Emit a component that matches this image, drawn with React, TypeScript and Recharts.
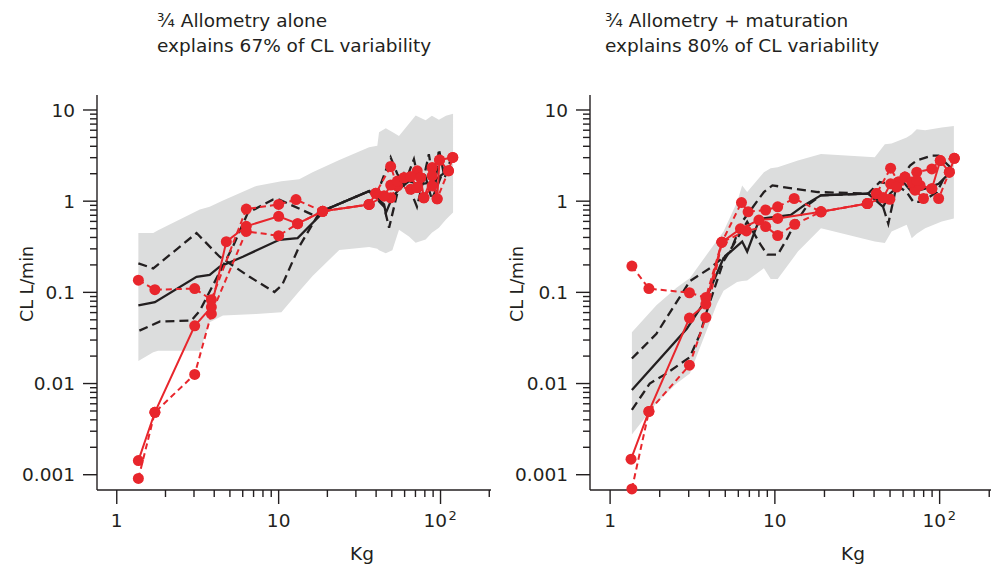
import React from 'react';
import { ComposedChart, Area, Line, XAxis, YAxis } from 'recharts';

type Pt = [number, number];
type BandRow = [number, number, number];

// kg, lower, upper of the prediction band
const leftBand: BandRow[] = [
  [1.36, 0.0177, 0.447], [1.68, 0.022, 0.447], [1.8, 0.0229, 0.48], [3.26, 0.0229, 0.81],
  [3.75, 0.047, 0.87], [4.53, 0.0558, 1.02], [7.27, 0.058, 1.47], [10.4, 0.0607, 1.65],
  [13.4, 0.103, 1.74], [16.2, 0.151, 2.08], [23.7, 0.292, 2.82], [36.2, 0.315, 3.9],
  [40.7, 0.3, 4.06], [41.7, 0.29, 5.7], [45.9, 0.269, 6.3], [50.4, 0.29, 5.75],
  [55.4, 0.486, 5.2], [63.8, 0.41, 7.05], [70.2, 0.35, 8.7], [80.9, 0.38, 7.7],
  [88.4, 0.45, 8.65], [97.7, 0.51, 7.8], [108, 0.63, 8.65], [119.5, 0.75, 9.1],
];
const leftPredMedian: Pt[] = [
  [1.36, 0.072], [1.72, 0.078], [3.11, 0.148], [3.75, 0.155], [4.32, 0.191], [6.01, 0.246],
  [10.1, 0.377], [13.1, 0.394], [19.6, 0.81], [36.2, 1.29], [44.8, 0.92], [45.9, 0.74],
  [50.4, 1.1], [55.4, 1.35], [63.8, 1.66], [73.5, 1.53], [88.4, 1.61], [107, 2.08], [118, 2.36],
];
const leftPredA: Pt[] = [
  [1.36, 0.208], [1.68, 0.183], [3.11, 0.447], [4.32, 0.246], [6.61, 0.148], [9.42, 0.101],
  [10.5, 0.12], [13.4, 0.318], [17.8, 0.744], [19.6, 0.81], [36.2, 1.29], [40.4, 1.18],
  [49.2, 3.02], [54, 2.0], [59.5, 1.5], [68.5, 2.89], [75.6, 1.3], [84.7, 3.28], [92.2, 1.3],
  [97.7, 3.73], [106, 1.8], [115.7, 2.89],
];
const leftPredB: Pt[] = [
  [1.38, 0.038], [1.85, 0.048], [2.89, 0.049], [3.26, 0.063], [5.22, 0.318], [6.45, 0.744],
  [9.2, 1.04], [10.1, 1.04], [16.2, 0.71], [19.6, 0.81], [36.2, 1.29], [44.8, 0.87],
  [48.1, 0.51], [53.8, 1.18], [59.5, 1.97], [71.5, 0.87], [80, 1.97], [88.4, 1.04],
  [102, 1.97], [112, 2.36],
];
const leftObsMedian: Pt[] = [
  [1.36, 0.00143], [1.72, 0.00484], [3.03, 0.043], [3.84, 0.069], [4.75, 0.36], [6.31, 0.53],
  [10.0, 0.683], [13.1, 0.567], [18.7, 0.775], [36.2, 0.92], [39.8, 1.22], [44.8, 1.14],
  [49.2, 1.5], [54.1, 1.66], [59.5, 1.81], [65.3, 1.86], [71.8, 1.41], [75.3, 1.81],
  [78.9, 1.09], [88.8, 1.89], [95.3, 1.06], [98.6, 2.82], [112, 2.15], [119, 3.02],
];
const leftObsUpper: Pt[] = [
  [1.36, 0.136], [1.72, 0.107], [3.03, 0.11], [3.84, 0.083], [6.31, 0.82], [10.0, 0.92],
  [12.8, 1.04], [18.7, 0.775], [36.2, 0.92], [39.8, 1.22], [49.2, 2.4], [54.1, 1.47],
  [59.5, 1.81], [71.8, 2.15], [75.3, 1.81], [88.8, 2.34], [98.6, 2.82], [119, 3.02],
];
const leftObsLower: Pt[] = [
  [1.36, 0.00091], [1.72, 0.00484], [3.03, 0.0126], [3.84, 0.058], [6.31, 0.466], [10.0, 0.418],
  [13.1, 0.567], [18.7, 0.775], [36.2, 0.92], [44.8, 1.14], [49.2, 1.09], [54.1, 1.47],
  [65.3, 1.35], [71.8, 1.41], [78.9, 1.09], [88.8, 1.47], [95.3, 1.06], [112, 2.15],
];
const leftObsExtra: Pt[] = [];

const rightBand: BandRow[] = [
  [1.356, 0.00276, 0.0365], [1.91, 0.0061, 0.072], [2.53, 0.01, 0.112], [3.05, 0.0129, 0.144],
  [4.45, 0.0743, 0.37], [4.88, 0.104, 0.464], [5.9, 0.13, 0.98], [6.33, 0.133, 1.49],
  [6.79, 0.135, 1.26], [8.58, 0.184, 2.08], [9.43, 0.14, 2.3], [10.4, 0.14, 2.35],
  [13.8, 0.28, 2.8], [19.05, 0.504, 3.29], [40.4, 0.361, 3.03], [46.5, 0.347, 4.22],
  [51.1, 0.464, 4.3], [63.1, 0.55, 5.0], [67.7, 0.393, 5.42], [72.6, 0.44, 6.14],
  [81.7, 0.504, 6.0], [103, 0.6, 6.41], [122, 0.647, 6.69],
];
const rightPredMedian: Pt[] = [
  [1.356, 0.0085], [2.92, 0.0398], [3.77, 0.0807], [4.88, 0.238], [6.33, 0.361], [6.79, 0.28],
  [7.82, 0.55], [8.58, 0.647], [12.5, 0.705], [15.1, 0.905], [19.05, 1.16], [36.8, 1.21],
  [45.4, 0.867], [49.9, 1.21], [60.2, 1.62], [67.7, 1.26], [81.7, 1.37], [98.6, 1.55], [121.8, 2.26],
];
const rightPredA: Pt[] = [
  [1.356, 0.0188], [1.91, 0.0351], [3.05, 0.133], [4.05, 0.185], [5.37, 0.28], [6.33, 0.596],
  [8.58, 1.26], [9.66, 1.49], [13.1, 1.37], [18.2, 1.26], [36.8, 1.21], [43.3, 1.62],
  [54.8, 1.49], [66.1, 2.46], [72.6, 2.79], [89.7, 3.16], [98.6, 3.16], [108, 2.67], [119, 2.26],
];
const rightPredB: Pt[] = [
  [1.356, 0.00515], [1.74, 0.01], [2.2, 0.0129], [3.05, 0.0195], [3.52, 0.0351], [3.87, 0.0628],
  [4.88, 0.219], [6.79, 0.596], [8.19, 0.333], [9.0, 0.259], [10.4, 0.259], [11.9, 0.393],
  [13.1, 0.55], [15.8, 0.905], [19.05, 1.16], [36.8, 1.21], [44.4, 0.98], [48.8, 0.567],
  [54.8, 1.49], [63.1, 1.26], [69.3, 0.98], [77.9, 0.98], [96.3, 1.26], [113.5, 2.26],
];
const rightObsMedian: Pt[] = [
  [1.34, 0.00148], [1.72, 0.00494], [3.03, 0.0523], [3.81, 0.0743], [4.77, 0.355], [6.18, 0.497],
  [8.0, 0.621], [10.4, 0.647], [19.05, 0.765], [36.4, 0.942], [41.4, 1.21], [45.4, 1.09],
  [50.4, 1.55], [54.8, 1.43], [61.6, 1.84], [67.7, 1.62], [76.1, 1.49], [89.7, 1.37],
  [100.9, 2.79], [114.5, 2.08], [122.8, 2.95],
];
const rightObsUpper: Pt[] = [
  [1.356, 0.194], [1.72, 0.11], [3.03, 0.099], [3.81, 0.0876], [4.77, 0.355], [6.27, 0.966],
  [6.88, 0.765], [8.79, 0.8], [10.4, 0.867], [13.1, 1.07], [19.05, 0.765], [36.4, 0.942],
  [41.4, 1.21], [50.4, 2.3], [56.1, 1.62], [61.6, 1.84], [72.6, 2.08], [89.7, 2.26],
  [100.9, 2.79], [122.8, 2.95],
];
const rightObsLower: Pt[] = [
  [1.356, 0.000698], [1.72, 0.00494], [3.03, 0.0159], [3.81, 0.0531], [4.77, 0.355], [6.72, 0.472],
  [8.79, 0.526], [10.4, 0.42], [13.2, 0.557], [19.05, 0.765], [36.4, 0.942], [45.4, 1.09],
  [49.9, 1.05], [56.1, 1.62], [70.9, 1.32], [79.8, 1.07], [89.7, 1.37], [98.6, 1.07], [114.5, 2.08],
];
const rightObsExtra: Pt[] = [[72.6, 1.69]];

const kgDecades = [1, 10, 100];
const clDecades = [0.001, 0.01, 0.1, 1, 10];
const minorSteps = [2, 3, 4, 5, 6, 7, 8, 9];
const KG_DOMAIN: [number, number] = [0.755, 205];
const CL_DOMAIN: [number, number] = [0.00068, 14.6];
const kgTicks = kgDecades.flatMap((d) => [d, ...minorSteps.map((m) => m * d)]).filter((v) => v <= 200);
const clTicks = clDecades.flatMap((d) => [d, ...minorSteps.map((m) => m * d)]).filter((v) => v <= 14.6);

const FONT = '"DejaVu Sans", "Liberation Sans", Arial, sans-serif';
const INK = '#231f20';
const RED = '#e8262c';
const GREY = '#dcdddd';

const toRows = (pts: Pt[]) => pts.map(([kg, cl]) => ({ kg, cl }));
const toBand = (rows: BandRow[]) => rows.map(([kg, lo, hi]) => ({ kg, range: [lo, hi] }));

function XTick(props: any) {
  const { x, y, payload } = props;
  const v = payload.value;
  const major = kgDecades.includes(v);
  return (
    <g>
      <line x1={x} x2={x} y1={y} y2={y + (major ? 14 : 7)} stroke={INK} strokeWidth={1.4} />
      {major && v < 100 && (
        <text x={x} y={y + 37} textAnchor="middle" fontSize={18.5} fontFamily={FONT} fill={INK}>{v}</text>
      )}
      {v === 100 && (
        <g fontFamily={FONT} fill={INK}>
          <text x={x + 6.5} y={y + 37} textAnchor="end" fontSize={18.5}>10</text>
          <text x={x + 8} y={y + 30} fontSize={13}>2</text>
        </g>
      )}
    </g>
  );
}

function YTick(props: any) {
  const { x, y, payload } = props;
  const v = payload.value;
  const major = clDecades.includes(v);
  return (
    <g>
      <line x1={x - (major ? 14 : 7)} x2={x} y1={y} y2={y} stroke={INK} strokeWidth={1.4} />
      {major && (
        <text x={x - 22} y={y + 6.7} textAnchor="end" fontSize={18.5} fontFamily={FONT} fill={INK}>{String(v)}</text>
      )}
    </g>
  );
}

const dotStyle = { r: 5.5, fill: RED, stroke: 'none', clipDot: false };

function Panel(p: {
  band: BandRow[]; med: Pt[]; a: Pt[]; b: Pt[];
  obsMed: Pt[]; obsUp: Pt[]; obsLo: Pt[]; extra: Pt[];
  width: number; margin: { top: number; right: number; bottom: number; left: number };
}) {
  return (
    <ComposedChart width={p.width} height={565} data={toBand(p.band)} margin={p.margin}>
      <XAxis dataKey="kg" type="number" scale="log" domain={KG_DOMAIN} allowDataOverflow ticks={kgTicks} interval={0}
        tick={XTick} tickLine={false} tickSize={0} tickMargin={0} axisLine={{ stroke: INK, strokeWidth: 1.4 }} height={40} />
      <YAxis type="number" scale="log" domain={CL_DOMAIN} allowDataOverflow ticks={clTicks} interval={0}
        tick={YTick} tickLine={false} tickSize={0} tickMargin={0} axisLine={{ stroke: INK, strokeWidth: 1.4 }} width={60} />
      <Area dataKey="range" type="linear" stroke="none" fill={GREY} fillOpacity={1} isAnimationActive={false} />
      <Line data={toRows(p.a)} dataKey="cl" type="linear" stroke={INK} strokeWidth={2.3} strokeDasharray="9 5" dot={false} isAnimationActive={false} />
      <Line data={toRows(p.b)} dataKey="cl" type="linear" stroke={INK} strokeWidth={2.3} strokeDasharray="9 5" dot={false} isAnimationActive={false} />
      <Line data={toRows(p.med)} dataKey="cl" type="linear" stroke={INK} strokeWidth={2.3} dot={false} isAnimationActive={false} />
      <Line data={toRows(p.obsUp)} dataKey="cl" type="linear" stroke={RED} strokeWidth={2} strokeDasharray="6 4" dot={dotStyle} isAnimationActive={false} />
      <Line data={toRows(p.obsLo)} dataKey="cl" type="linear" stroke={RED} strokeWidth={2} strokeDasharray="6 4" dot={dotStyle} isAnimationActive={false} />
      <Line data={toRows(p.obsMed)} dataKey="cl" type="linear" stroke={RED} strokeWidth={2} dot={dotStyle} isAnimationActive={false} />
      <Line data={toRows(p.extra)} dataKey="cl" type="linear" stroke="none" dot={dotStyle} isAnimationActive={false} />
    </ComposedChart>
  );
}

export default function App() {
  return (
    <div style={{ position: 'absolute', left: 0, top: 0, width: 992, height: 565, background: '#fff' }}>
      <div style={{ position: 'absolute', left: 0, top: 0 }}>
        <Panel band={leftBand} med={leftPredMedian} a={leftPredA} b={leftPredB}
          obsMed={leftObsMedian} obsUp={leftObsUpper} obsLo={leftObsLower} extra={leftObsExtra}
          width={500} margin={{ top: 95, right: 9, bottom: 35, left: 37 }} />
      </div>
      <div style={{ position: 'absolute', left: 500, top: 0 }}>
        <Panel band={rightBand} med={rightPredMedian} a={rightPredA} b={rightPredB}
          obsMed={rightObsMedian} obsUp={rightObsUpper} obsLo={rightObsLower} extra={rightObsExtra}
          width={492} margin={{ top: 95, right: 1, bottom: 35, left: 30 }} />
      </div>
      <svg width={992} height={565} style={{ position: 'absolute', left: 0, top: 0, pointerEvents: 'none' }}>
        <g fontFamily={FONT} fill={INK} fontSize={18.5}>
          <text x={157} y={26.7}>¾ Allometry alone</text>
          <text x={157} y={51.7}>explains 67% of CL variability</text>
          <text x={605} y={26.7}>¾ Allometry + maturation</text>
          <text x={605} y={51.7}>explains 80% of CL variability</text>
          <text x={362} y={560} textAnchor="middle">Kg</text>
          <text x={853} y={560} textAnchor="middle">Kg</text>
        </g>
        <g fontFamily={FONT} fill={INK} fontSize={17.5}>
          <text transform="translate(33,284) rotate(-90)" textAnchor="middle">CL L/min</text>
          <text transform="translate(523,284) rotate(-90)" textAnchor="middle">CL L/min</text>
        </g>
      </svg>
    </div>
  );
}
